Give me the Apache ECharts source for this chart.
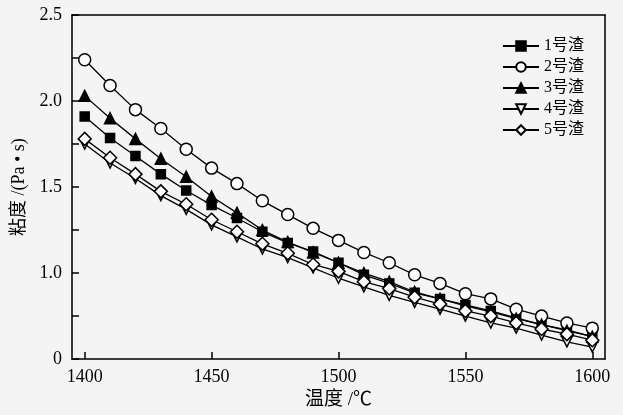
<!DOCTYPE html>
<html>
<head>
<meta charset="utf-8">
<script src="https://cdn.jsdelivr.net/npm/echarts@6/dist/echarts.min.js"></script>
<style>
html,body{margin:0;padding:0;background:#f4f4f5;}
#chart{width:623px;height:415px;}
</style>
</head>
<body>
<div id="chart"></div>
<script>
// Temperature (℃)
const temperatures = [1400,1410,1420,1430,1440,1450,1460,1470,1480,1490,1500,1510,1520,1530,1540,1550,1560,1570,1580,1590,1600];
// Viscosity (Pa·s)
const slag1 = [1.91,1.785,1.68,1.575,1.48,1.395,1.32,1.24,1.175,1.125,1.06,0.99,0.94,0.885,0.85,0.815,0.78,0.74,0.70,0.67,0.63];
const slag2 = [2.24,2.09,1.95,1.84,1.72,1.61,1.52,1.42,1.34,1.26,1.19,1.12,1.06,0.99,0.94,0.88,0.85,0.79,0.75,0.71,0.68];
const slag3 = [2.03,1.90,1.78,1.665,1.56,1.445,1.35,1.25,1.18,1.12,1.06,1.00,0.95,0.89,0.85,0.81,0.775,0.735,0.70,0.665,0.63];
const slag4 = [1.75,1.64,1.55,1.45,1.37,1.28,1.21,1.14,1.09,1.03,0.97,0.92,0.87,0.83,0.79,0.75,0.71,0.68,0.64,0.60,0.57];
const slag5 = [1.78,1.67,1.575,1.475,1.40,1.31,1.24,1.17,1.115,1.05,1.01,0.95,0.91,0.86,0.82,0.78,0.75,0.71,0.675,0.645,0.61];
const seriesNames = ['1号渣','2号渣','3号渣','4号渣','5号渣'];
// Tick labels
const xTickValues = [1400,1450,1500,1550,1600];
const xTickLabels = ['1400','1450','1500','1550','1600'];
const yTickMarks = [0.5,0.75,1.0,1.25,1.5,1.75,2.0,2.25,2.5];
const yTickValues = [0.5,1.0,1.5,2.0,2.5];
const yTickLabels = ['0','1.0','1.5','2.0','2.5'];

const serif = '"Liberation Serif","Noto Sans CJK SC",serif';
const chart = echarts.init(document.getElementById('chart'), null, {renderer:'canvas'});

function pairs(vals){ return temperatures.map((t,i)=>[t, vals[i]]); }
function lookup(vals, labels, v){
  for (let i=0;i<vals.length;i++){ if (Math.abs(v-vals[i])<1e-9) return labels[i]; }
  return '';
}

const styles = [
  {symbol:'rect', size:9, fill:'#000', rotate:0},
  {symbol:'circle', size:12, fill:'#fff', rotate:0},
  {symbol:'triangle', size:11, fill:'#000', rotate:0},
  {symbol:'triangle', size:10, fill:'#fff', rotate:180},
  {symbol:'diamond', size:13, fill:'#fff', rotate:0}
];
const allData = [slag1, slag2, slag3, slag4, slag5];

const series = allData.map((d,i)=>({
  name: seriesNames[i],
  type:'line',
  data: pairs(d),
  symbol: styles[i].symbol,
  symbolSize: styles[i].size,
  symbolRotate: styles[i].rotate,
  showAllSymbol: true,
  lineStyle:{color:'#000', width:1.3},
  itemStyle:{color: styles[i].fill, borderColor:'#000', borderWidth:1.5},
  emphasis:{disabled:true},
  animation:false
}));

const frameAxis = {
  axisLine:{show:true, onZero:false, lineStyle:{color:'#000', width:1.5}},
  axisTick:{show:false}, axisLabel:{show:false}, splitLine:{show:false}
};

chart.setOption({
  backgroundColor:'#f4f4f5',
  animation:false,
  grid:{left:72, right:18, top:15, bottom:53},
  legend:{
    orient:'vertical', left:497, top:33,
    itemWidth:36, itemHeight:12, itemGap:5,
    textStyle:{fontFamily:serif, fontSize:16, color:'#000'},
    data: seriesNames
  },
  xAxis:[{
    type:'value', min:1395, max:1605, position:'bottom',
    name:'温度 /℃', nameLocation:'middle', nameGap:30,
    nameTextStyle:{fontFamily:serif, fontSize:19, color:'#000'},
    axisLine:{show:true, onZero:false, lineStyle:{color:'#000', width:1.5}},
    axisTick:{show:true, inside:true, length:7, lineStyle:{color:'#000', width:1.5}, customValues: xTickValues},
    axisLabel:{fontFamily:serif, fontSize:18, color:'#000', margin:9, customValues: xTickValues,
      formatter:function(v){ return lookup(xTickValues, xTickLabels, v); }},
    splitLine:{show:false}
  }, Object.assign({type:'value', min:1395, max:1605, position:'top'}, frameAxis)],
  yAxis:[{
    type:'value', min:0.5, max:2.5, interval:0.25, position:'left',
    name:'粘度 /(Pa • s)', nameLocation:'middle', nameGap:42, nameRotate:90,
    nameTextStyle:{fontFamily:serif, fontSize:18, color:'#000'},
    axisLine:{show:true, onZero:false, lineStyle:{color:'#000', width:1.5}},
    axisTick:{show:true, inside:true, length:7, lineStyle:{color:'#000', width:1.5}, customValues: yTickMarks},
    axisLabel:{fontFamily:serif, fontSize:18, color:'#000', margin:10, customValues: yTickValues,
      formatter:function(v){ return lookup(yTickValues, yTickLabels, v); }},
    splitLine:{show:false}
  }, Object.assign({type:'value', min:0.5, max:2.5, interval:0.25, position:'right'}, frameAxis)],
  series: series
});
</script>
</body>
</html>
